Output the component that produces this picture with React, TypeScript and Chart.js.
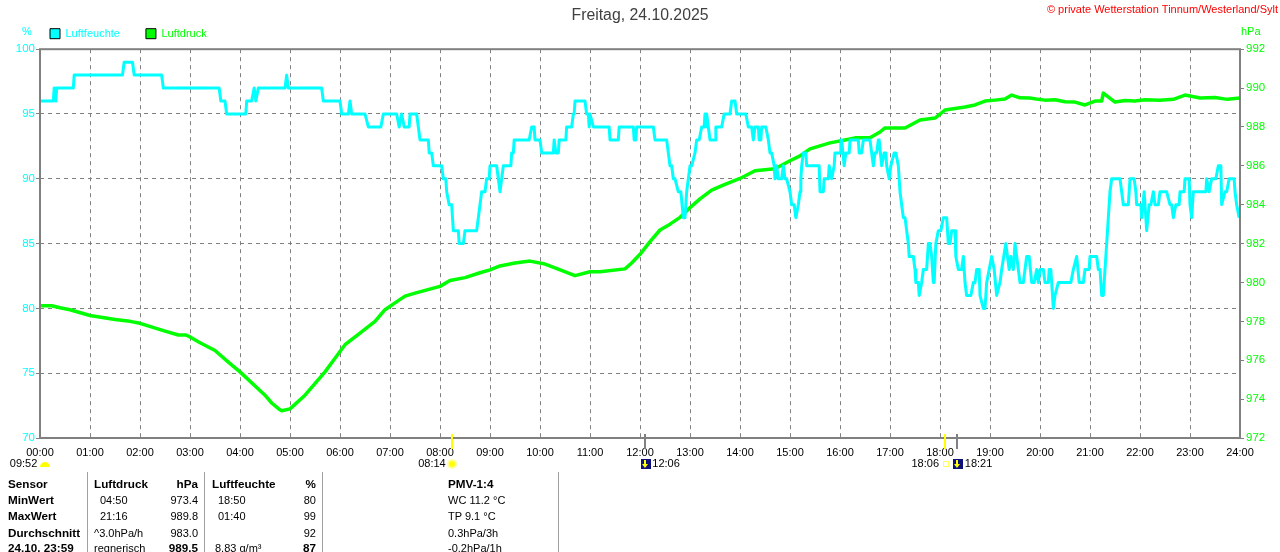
import React, { useEffect, useRef } from "react";
import { Chart, registerables } from "chart.js";

Chart.register(...registerables);

const pageTitle = "Freitag, 24.10.2025";
const copyright = "© private Wetterstation Tinnum/Westerland/Sylt";

const humidityMinutes = [
  0, 16, 17, 19, 20, 40, 41, 99, 101, 111, 113, 146, 148, 215, 217, 222, 224, 247, 248, 254, 257, 259, 262, 294, 296, 298, 338, 340, 360, 362, 370, 372, 374, 390, 394, 409, 412, 428, 431, 434, 437, 443, 444, 452,
  454, 456, 466, 467, 470, 472, 482, 484, 487, 488, 491, 494, 496, 502, 503, 508, 510, 524, 526, 528, 530, 534, 536, 539, 540, 548, 552, 556, 565, 566, 568, 569, 587, 590, 593, 594, 600, 602, 616, 617, 619, 622, 623, 631, 632, 638, 640, 641, 642, 654, 656, 658, 659, 660, 661, 664, 683, 684, 694, 695, 712, 713, 715, 716, 736, 738, 752, 754, 756, 758, 760, 762, 766, 769, 772, 774, 776, 780, 782, 786, 788, 791, 794, 797, 798, 799, 800, 802, 804, 810, 811, 818, 821, 828, 830, 834, 836, 847, 850, 854, 856, 858, 862, 863, 865, 866, 871, 874, 876, 878, 881, 882, 884, 886, 890, 892, 894, 896, 900, 902, 905, 907, 910, 912, 913, 914, 916, 919, 920, 935, 936, 940, 941, 946, 947, 950, 953, 954, 960, 961, 962, 965, 967, 971, 972, 982, 983, 986, 988, 996, 998, 1000, 1002, 1004, 1006, 1007, 1010, 1013, 1015, 1016, 1019, 1021, 1025, 1027, 1030, 1031, 1032, 1034, 1036, 1038,
  1040, 1042, 1043, 1048, 1050, 1051, 1054, 1055, 1056, 1058, 1060, 1064, 1066, 1068, 1070, 1072, 1073, 1075, 1078, 1081, 1084, 1088, 1090, 1092, 1094, 1098, 1099, 1102, 1106, 1108, 1110, 1112, 1117, 1120, 1122, 1124, 1127, 1128, 1132, 1134, 1136, 1142, 1145, 1148, 1152, 1154, 1159, 1163, 1165, 1168, 1170, 1174, 1176, 1180, 1184, 1187, 1190, 1193, 1196, 1198, 1200, 1204, 1206, 1210, 1211, 1213, 1216, 1218, 1222, 1237, 1240, 1244, 1247, 1252, 1254, 1259, 1260, 1268, 1270, 1272, 1274, 1276, 1278, 1280, 1282, 1284, 1286, 1296, 1300, 1306, 1308, 1313, 1315, 1316, 1321, 1322, 1325, 1327, 1328, 1331, 1333, 1336, 1338, 1342, 1344, 1352, 1356, 1358, 1360, 1363, 1367, 1368, 1373, 1374, 1379, 1380, 1382, 1384, 1399, 1400, 1403, 1406, 1411, 1414, 1417, 1418, 1422, 1424, 1427, 1433, 1434, 1436, 1439,
];
const humidityPercent = [
  96, 96, 97, 96, 97, 97, 98, 98, 99, 99, 98, 98, 97, 97, 96, 96, 95, 95, 96, 96, 97, 96, 97, 97, 98, 97, 97, 96, 96, 95, 95, 96, 95, 95, 94, 94, 95, 95, 94, 95, 94, 94, 95, 95,
  94, 93, 93, 92, 92, 91, 91, 90, 90, 89, 88, 88, 86, 86, 85, 85, 86, 86, 87, 88, 89, 89, 90, 90, 91, 91, 89, 91, 91, 92, 92, 93, 93, 94, 94, 93, 93, 92, 92, 93, 92, 92, 93, 93, 94, 94, 95, 95, 96, 96, 95, 95, 94, 95, 95, 94, 94, 93, 93, 94, 94, 93, 93, 94, 94, 93, 93, 92, 91, 91, 90, 90, 89, 89, 87, 87, 89, 91, 91, 92, 93, 93, 94, 94, 95, 94, 95, 94, 93, 93, 94, 94, 95, 95, 96, 96, 95, 95, 94, 94, 93, 94, 94, 93, 93, 94, 94, 93, 92, 92, 91, 90, 91, 90, 90, 91, 90, 90, 89, 88, 88, 87, 88, 89, 90, 91, 92, 92, 91, 91, 89, 89, 90, 90, 91, 90, 91, 92, 92, 93, 93, 91, 92, 92, 93, 93, 92, 92, 93, 93, 92, 91, 92, 92, 93, 93, 91, 92, 92, 91, 90, 91, 92, 92, 91, 90, 89, 88, 87, 87,
  86, 85, 84, 84, 83, 82, 82, 81, 81, 82, 83, 83, 85, 85, 84, 82, 82, 85, 86, 86, 87, 87, 85, 85, 86, 86, 84, 83, 83, 84, 82, 81, 81, 82, 82, 83, 83, 81, 80, 80, 82, 84, 83, 81, 82, 83, 85, 83, 84, 83, 85, 83, 82, 82, 84, 84, 82, 82, 83, 82, 83, 83, 82, 82, 83, 83, 80, 81, 82, 82, 83, 84, 82, 82, 83, 83, 84, 84, 83, 83, 81, 81, 83, 85, 87, 89, 90, 90, 88, 88, 90, 90, 89, 88, 88, 87, 89, 87, 86, 88, 88, 89, 88, 88, 89, 89, 88, 88, 87, 88, 88, 89, 89, 90, 90, 88, 87, 89, 89, 90, 89, 90, 90, 91, 91, 88, 89, 89, 90, 90, 89, 88, 87,
];

const pressureMinutes = [
  0, 14, 24, 36, 60, 90, 108, 120, 150, 166, 175, 180, 192, 210, 226, 240, 270, 278, 288, 290, 300, 318, 342, 354, 366, 384, 402, 414, 426, 438, 450, 480, 492, 510, 528, 540, 552, 570, 588, 606, 618, 642, 660, 672, 702, 710, 720, 732, 744, 756, 768, 780, 792, 806, 822, 840, 858, 882,
  900, 912, 924, 936, 948, 966, 978, 996, 1008, 1014, 1038, 1056, 1074, 1086, 1110, 1122, 1134, 1146, 1158, 1166, 1176, 1188, 1198, 1206, 1218, 1230, 1242, 1254, 1266, 1274, 1276, 1290, 1302, 1314, 1326, 1344, 1360, 1374, 1392, 1410, 1425, 1440,
];
const pressureHpa = [
  978.8, 978.8, 978.7, 978.6, 978.3, 978.1, 978.0, 977.9, 977.5, 977.3, 977.3, 977.2, 976.9, 976.5, 975.9, 975.4, 974.2, 973.8, 973.45, 973.4, 973.5, 974.2, 975.4, 976.1, 976.8, 977.4, 978.0, 978.6, 978.95, 979.3, 979.45, 979.8, 980.1, 980.25, 980.5, 980.65, 980.85, 981.0, 981.1, 980.95, 980.75, 980.35, 980.55, 980.55, 980.7, 981.0, 981.45, 982.1, 982.7, 983.0, 983.35, 983.85, 984.3, 984.75, 985.05, 985.35, 985.75, 985.85,
  986.26, 986.51, 986.87, 987.03, 987.18, 987.33, 987.44, 987.44, 987.74, 987.95, 987.95, 988.36, 988.46, 988.87, 989.03, 989.13, 989.33, 989.38, 989.44, 989.64, 989.5, 989.49, 989.42, 989.38, 989.4, 989.3, 989.28, 989.13, 989.33, 989.33, 989.74, 989.28, 989.36, 989.33, 989.4, 989.38, 989.42, 989.64, 989.49, 989.52, 989.42, 989.49,
];

const sunMarkers = [494, 1086];
const moonMarkers = [726, 1101];

const rowLabels = ["09:52", "08:14", "12:06", "18:06", "18:21"];
const rowLabelMinutes = [-29, 461, 742, 1053, 1117];

const tableRows = [
  ["Sensor", "Luftdruck", "", "hPa", "Luftfeuchte", "", "%", "PMV-1:4"],
  ["MinWert", "", "04:50", "973.4", "", "18:50", "80", "WC 11.2 °C"],
  ["MaxWert", "", "21:16", "989.8", "", "01:40", "99", "TP 9.1 °C"],
  ["Durchschnitt", "^3.0hPa/h", "", "983.0", "", "", "92", "0.3hPa/3h"],
  ["24.10. 23:59", "regnerisch", "", "989.5", "", "8.83 g/m³", "87", "-0.2hPa/1h"],
];
const tableSeparators = [88, 205, 323, 559];
const CYAN = "#00ffff";
const GREEN = "#00ff00";
const GRAY = "#808080";
const FONT = "'Liberation Sans', Arial, sans-serif";

const decor = {
  id: "decor",
  beforeLayout(chart: any) {
    if (chart.titleBlock && !chart.titleBlock.__patched) {
      const orig = chart.titleBlock.update.bind(chart.titleBlock);
      chart.titleBlock.update = (...args: any[]) => {
        orig(...args);
        chart.titleBlock.height = 0;
      };
      chart.titleBlock.__patched = true;
    }
  },
  afterLayout(chart: any) {
    if (chart.legend) chart.legend.left = 50 - chart.options.plugins.legend.labels.padding;
  },
  afterDraw(chart: any) {
    const { ctx, chartArea: a, scales } = chart;
    const x = scales.x;
    ctx.save();
    ctx.strokeStyle = GRAY;
    ctx.lineWidth = 2;
    ctx.strokeRect(a.left, a.top, a.right - a.left, a.bottom - a.top);

    ctx.font = `11px ${FONT}`;
    ctx.textBaseline = "middle";
    ctx.textAlign = "left";
    ctx.fillStyle = CYAN;
    ctx.fillText("%", 22, 32);
    ctx.fillStyle = GREEN;
    ctx.fillText("hPa", 1241, 32);
    ctx.fillStyle = "#ff0000";
    ctx.textAlign = "right";
    ctx.fillText(copyright, 1278, 10);

    ctx.textAlign = "left";
    ctx.fillStyle = "#000";
    rowLabels.forEach((t, i) => {
      ctx.fillText(t, x.getPixelForValue(rowLabelMinutes[i]) - 6, 464);
    });

    sunMarkers.forEach((m) => {
      const px = Math.round(x.getPixelForValue(m));
      ctx.fillStyle = "#ffff00";
      ctx.fillRect(px - 1, 434, 2, 15);
    });
    moonMarkers.forEach((m) => {
      const px = Math.round(x.getPixelForValue(m));
      ctx.fillStyle = GRAY;
      ctx.fillRect(px - 1, 434, 2, 15);
      ctx.fillStyle = "#10107a";
      ctx.fillRect(px - 4, 459, 10, 10);
      ctx.fillStyle = "#ffff00";
      ctx.fillRect(px - 1, 460, 2, 5);
      ctx.beginPath();
      ctx.moveTo(px - 3, 464);
      ctx.lineTo(px + 3, 464);
      ctx.lineTo(px, 468);
      ctx.fill();
    });

    // Moon and sun symbols in the row under the axis
    ctx.fillStyle = "#ffff00";
    ctx.beginPath();
    ctx.arc(45, 467, 5, Math.PI, 0);
    ctx.fill();
    const sx = Math.round(x.getPixelForValue(sunMarkers[0]));
    ctx.fillStyle = "#ffffa0";
    ctx.beginPath();
    ctx.arc(sx, 464, 5, 0, Math.PI * 2);
    ctx.fill();
    ctx.fillStyle = "#ffff00";
    ctx.beginPath();
    ctx.arc(sx, 464, 3, 0, Math.PI * 2);
    ctx.fill();
    ctx.strokeStyle = "#ffff60";
    ctx.lineWidth = 1;
    ctx.strokeRect(Math.round(x.getPixelForValue(sunMarkers[1])) - 1.5, 461.5, 5, 5);
    ctx.restore();
  },
};

const cellStyle = (left: number, top: number, bold: boolean, right?: boolean): React.CSSProperties => ({
  position: "absolute",
  top,
  left: right ? left - 70 : left,
  width: right ? 70 : undefined,
  textAlign: right ? "right" : "left",
  fontWeight: bold ? 700 : 400,
  fontFamily: FONT,
  fontSize: bold ? 11.7 : 11,
  lineHeight: "14px",
  whiteSpace: "nowrap",
  color: "#000",
});

const colLeft = [8, 94, 100, 198, 212, 218, 316, 448];
const rowTop = [477, 493, 509, 526, 541];

export default function App() {
  const ref = useRef<HTMLCanvasElement>(null);
  useEffect(() => {
    const chart = new Chart(ref.current!, {
      type: "line",
      data: {
        datasets: [
          {
            label: "Luftfeuchte",
            data: humidityMinutes.map((m, i) => ({ x: m, y: humidityPercent[i] })),
            borderColor: CYAN,
            backgroundColor: CYAN,
            borderWidth: 3,
            borderJoinStyle: "round",
            pointRadius: 0,
            tension: 0,
            yAxisID: "y",
          },
          {
            label: "Luftdruck",
            data: pressureMinutes.map((m, i) => ({ x: m, y: pressureHpa[i] })),
            borderColor: GREEN,
            backgroundColor: GREEN,
            borderWidth: 3.5,
            borderJoinStyle: "round",
            pointRadius: 0,
            tension: 0,
            yAxisID: "y2",
          },
        ],
      },
      options: {
        responsive: false,
        animation: false,
        devicePixelRatio: 1,
        layout: { padding: { top: 2.2 } },
        plugins: {
          tooltip: { enabled: false },
          title: {
            display: true,
            text: pageTitle,
            color: "#404040",
            font: { family: FONT, size: 15.8, weight: "normal", lineHeight: 1.2 },
            padding: { top: 4, bottom: 0 },
          },
          legend: {
            display: true,
            position: "top",
            align: "start",
            labels: {
              boxWidth: 10,
              boxHeight: 10,
              padding: 26,
              font: { family: FONT, size: 11, lineHeight: 1.8 },
              generateLabels: (c: any) =>
                c.data.datasets.map((d: any, i: number) => ({
                  text: d.label,
                  fillStyle: d.borderColor,
                  strokeStyle: "#000",
                  lineWidth: 1,
                  fontColor: d.borderColor,
                  datasetIndex: i,
                })),
            },
          },
        },
        scales: {
          x: {
            type: "linear",
            min: 0,
            max: 1440,
            afterFit: (s: any) => {
              s.height = 114;
            },
            grid: { color: GRAY, drawTicks: false, lineWidth: 1 },
            border: { display: false, dash: [4, 4] },
            ticks: {
              stepSize: 60,
              autoSkip: false,
              maxRotation: 0,
              padding: 8,
              color: "#000",
              font: { family: FONT, size: 11 },
              callback: (v: any) => `${String(Math.floor(Number(v) / 60)).padStart(2, "0")}:00`,
            },
          },
          y: {
            position: "left",
            min: 70,
            max: 100,
            afterFit: (s: any) => {
              s.width = 40;
            },
            grid: { color: GRAY, tickColor: GRAY, tickLength: 4, lineWidth: 1, tickBorderDash: [] },
            border: { display: false, dash: [4, 4] },
            ticks: { stepSize: 5, padding: 1, color: CYAN, font: { family: FONT, size: 11.5 } },
          },
          y2: {
            position: "right",
            min: 972,
            max: 992,
            afterFit: (s: any) => {
              s.width = 40;
            },
            grid: { drawOnChartArea: false, color: GRAY, tickColor: GRAY, tickLength: 4 },
            border: { display: false },
            ticks: { stepSize: 2, padding: 2, color: GREEN, font: { family: FONT, size: 11.5 } },
          },
        },
      },
      plugins: [decor],
    } as any);
    return () => chart.destroy();
  }, []);

  return (
    <div style={{ position: "fixed", left: 0, top: 0, width: 1280, height: 552, overflow: "hidden", background: "#fff" }}>
      <canvas ref={ref} width={1280} height={552} style={{ display: "block", position: "absolute", left: 0, top: 0 }} />
      {tableSeparators.map((sx) => (
        <div key={sx} style={{ position: "absolute", left: sx - 1, top: 472, width: 1, height: 80, background: "#a0a0a0" }} />
      ))}
      {tableRows.map((row, r) =>
        row.map((cell, c) =>
          cell ? (
            <span
              key={`${r}-${c}`}
              style={cellStyle(
                r === 4 && c === 5 ? 215 : colLeft[c],
                rowTop[r],
                r === 0 || c === 0 || (r === 4 && (c === 3 || c === 6)),
                c === 3 || c === 6
              )}
            >
              {cell}
            </span>
          ) : null
        )
      )}
    </div>
  );
}
